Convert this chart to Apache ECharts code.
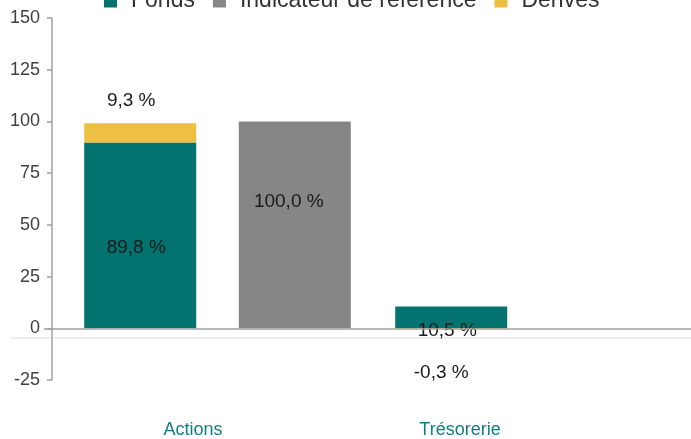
<!DOCTYPE html>
<html>
<head>
<meta charset="utf-8">
<script src="https://cdn.jsdelivr.net/npm/echarts@6/dist/echarts.min.js"></script>
<style>
  html, body { margin: 0; padding: 0; background: #fff; }
  #chart { width: 691px; height: 439px; }
</style>
</head>
<body>
<div id="chart"></div>
<script>
const categories = ['Actions', 'Trésorerie'];
const fonds = [89.8, 10.5];
const indicateur = [100.0, 0];
const derives = [9.3, -0.3];

const fmt = (v) => v.toFixed(1).replace('.', ',') + ' %';

const chart = echarts.init(document.getElementById('chart'), null, { renderer: 'canvas' });

const labelBase = {
  show: true,
  color: '#1a1a1a',
  fontFamily: 'Liberation Sans',
  fontSize: 19,
  formatter: (p) => fmt(p.value)
};

const option = {
  animation: false,
  grid: { left: 62, right: 7, top: 18, bottom: 59 },
  legend: {
    top: -11,
    left: 104,
    padding: 0,
    icon: 'rect',
    itemWidth: 13,
    itemHeight: 14,
    itemGap: 18,
    formatter: (name) => '{t|' + name + '}',
    textStyle: {
      rich: { t: { fontFamily: 'Liberation Sans', fontSize: 23, color: '#333', padding: [0, 0, 0, 9] } }
    },
    data: ['Fonds', 'Indicateur de référence', 'Dérivés']
  },
  xAxis: {
    type: 'category',
    data: categories,
    axisLine: { show: false, onZero: false },
    axisTick: { show: false },
    axisLabel: {
      margin: 41,
      color: '#0f7f80',
      fontFamily: 'Liberation Sans',
      fontSize: 18,
      formatter: (v, i) => (i === 0 ? '{a|' + v + '}' : '{b|' + v + '}'),
      rich: {
        a: { color: '#0f7f80', fontFamily: 'Liberation Sans', fontSize: 18, padding: [0, 49, 0, 0] },
        b: { color: '#0f7f80', fontFamily: 'Liberation Sans', fontSize: 18, padding: [0, 137, 0, 0] }
      }
    }
  },
  yAxis: {
    type: 'value',
    min: -25,
    max: 150,
    interval: 25,
    offset: 10,
    splitLine: { show: false },
    axisLine: { show: true, lineStyle: { color: '#a0a0a0', width: 1.5 } },
    axisTick: { show: true, length: 5, lineStyle: { color: '#a0a0a0', width: 1.5 } },
    axisLabel: { margin: 12, color: '#404040', fontFamily: 'Liberation Sans', fontSize: 18 }
  },
  graphic: [{
    type: 'line',
    shape: { x1: 10, y1: 338, x2: 691, y2: 338 },
    style: { stroke: '#eeeeee', lineWidth: 2 },
    z: 0
  }],
  series: [
    {
      name: 'Fonds',
      type: 'bar',
      stack: 'a',
      clip: false,
      barWidth: 112,
      barGap: '38%',
      itemStyle: { color: '#02736f' },
      data: fonds.map((v, i) => ({
        value: v,
        label: i === 0
          ? { ...labelBase, position: 'inside', offset: [-4, 12] }
          : { ...labelBase, position: 'insideBottom', distance: 0, offset: [-4, 12] }
      })),
      markLine: {
        silent: true,
        symbol: 'none',
        label: { show: false },
        lineStyle: { color: '#a0a0a0', width: 1.5, type: 'solid' },
        data: [[{ x: 44, yAxis: 0 }, { x: 691, yAxis: 0 }]]
      }
    },
    {
      name: 'Indicateur de référence',
      type: 'bar',
      barWidth: 112,
      itemStyle: { color: '#868686' },
      data: indicateur.map((v) => ({
        value: v,
        label: v === 0
          ? { show: false }
          : { ...labelBase, position: 'inside', offset: [-6, -23] }
      }))
    },
    {
      name: 'Dérivés',
      type: 'bar',
      stack: 'a',
      barWidth: 112,
      itemStyle: { color: '#ecc042' },
      data: derives.map((v) => ({
        value: v,
        label: v >= 0
          ? { ...labelBase, position: 'top', distance: 13, offset: [-9, 0] }
          : { ...labelBase, position: 'bottom', distance: 34, offset: [-10, 0] }
      }))
    }
  ]
};

chart.setOption(option);
</script>
</body>
</html>
